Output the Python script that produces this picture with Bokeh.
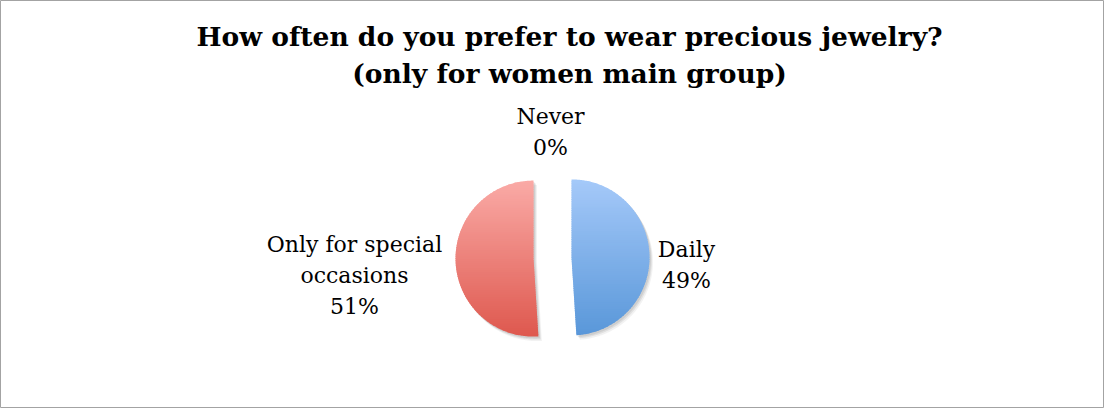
import numpy as np
from bokeh.plotting import figure
from bokeh.models import Range1d
from bokeh.core.properties import value
from bokeh.embed import file_html
from bokeh.resources import INLINE

# ---------------- data ----------------
title_lines = ["How often do you prefer to wear precious jewelry?",
               "(only for women main group)"]
categories = ["Daily", "Only for special occasions", "Never"]
label_names = [["Daily"], ["Only for special", "occasions"], ["Never"]]
shares = [49, 51, 0]  # percent

# ---------------- styles / layout ----------------
W, H = 1104, 408
top_colors = {"Daily": (165, 201, 249), "Only for special occasions": (250, 170, 166), "Never": (200, 220, 150)}
bot_colors = {"Daily": (89, 151, 217), "Only for special occasions": (222, 88, 78), "Never": (150, 180, 90)}
# label anchor (reference-pixel x center, first baseline y) per category
label_pos = {"Daily": (694, 257), "Only for special occasions": (362, 252), "Never": (558, 124)}
line_gap = 31

def cx(x):
    return x - 8

def cy(y):
    return 416 - y

center = (cx(560), cy(265.5))
radius = 78
explode = 19

p = figure(width=W, height=H, output_backend="svg", toolbar_location=None,
           x_range=Range1d(0, W), y_range=Range1d(0, H), min_border=0)
p.axis.visible = False
p.grid.visible = False
p.outline_line_color = "#A3A3A3"
p.outline_line_width = 1
p.background_fill_color = "white"
p.border_fill_color = "white"


def clip(poly, yv, keep_above):
    out = []
    n = len(poly)
    for i in range(n):
        a = poly[i]
        b = poly[(i + 1) % n]
        ina = (a[1] >= yv) if keep_above else (a[1] <= yv)
        inb = (b[1] >= yv) if keep_above else (b[1] <= yv)
        if ina:
            out.append(a)
        if ina != inb:
            t = (yv - a[1]) / (b[1] - a[1])
            out.append((a[0] + t * (b[0] - a[0]), yv))
    return out


cum = np.cumsum([0] + shares)
total = float(cum[-1])
for i, cat in enumerate(categories):
    if shares[i] <= 0:
        continue
    a0 = np.deg2rad(90 - cum[i] / total * 360.0)
    a1 = np.deg2rad(90 - cum[i + 1] / total * 360.0)
    mid = (a0 + a1) / 2
    ox = center[0] + explode * np.cos(mid)
    oy = center[1] + explode * np.sin(mid)
    angs = np.linspace(a0, a1, 240)
    poly = [(ox, oy)] + [(ox + radius * np.cos(a), oy + radius * np.sin(a)) for a in angs]

    # soft shadow
    for dx, dy, al in [(3.5, -4.5, 0.05), (2.5, -3.0, 0.07), (1.5, -1.8, 0.08)]:
        p.patch([q[0] + dx for q in poly], [q[1] + dy for q in poly],
                fill_color="black", fill_alpha=al, line_color=None)

    ys = [q[1] for q in poly]
    ymin, ymax = min(ys), max(ys)
    nb = 70
    h = (ymax - ymin) / nb
    xs_l, ys_l, cols = [], [], []
    c_top = np.array(top_colors[cat], float)
    c_bot = np.array(bot_colors[cat], float)
    for b in range(nb):
        lo = ymin + b * h - 0.5
        hi = ymin + (b + 1) * h + 0.5
        band = clip(clip(poly, lo, True), hi, False)
        if len(band) < 3:
            continue
        t = (ymax - (ymin + (b + 0.5) * h)) / (ymax - ymin)
        c = c_top + (c_bot - c_top) * t
        cols.append("#%02x%02x%02x" % tuple(int(round(v)) for v in c))
        xs_l.append([q[0] for q in band])
        ys_l.append([q[1] for q in band])
    p.patches(xs_l, ys_l, fill_color=cols, line_color=None)

# data labels
lx, ly, lt = [], [], []
for i, cat in enumerate(categories):
    lines = label_names[i] + ["%d%%" % shares[i]]
    x0, y0 = label_pos[cat]
    for k, s in enumerate(lines):
        lx.append(cx(x0))
        ly.append(cy(y0 + k * line_gap))
        lt.append(s)
p.text(lx, ly, text=lt, text_font=value("DejaVu Serif"), text_font_size="22px",
       text_align="center", text_baseline="alphabetic", text_color="#000000")

# title
p.text([cx(577), cx(577)], [cy(44), cy(81)], text=title_lines,
       text_font=value("DejaVu Serif"), text_font_size="26.5px", text_font_style="bold",
       text_align="center", text_baseline="alphabetic", text_color="#000000")

open("out.html", "w").write(file_html(p, INLINE))
